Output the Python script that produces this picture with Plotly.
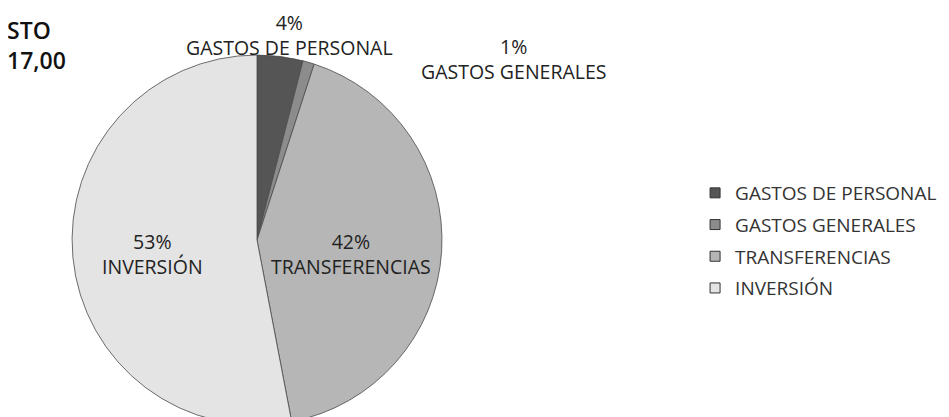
import plotly.graph_objects as go

W, H = 949, 417

categories = ["GASTOS DE PERSONAL", "GASTOS GENERALES", "TRANSFERENCIAS", "INVERSIÓN"]
percent_values = [4, 1, 42, 53]
slice_colors = ["#555555", "#8c8c8c", "#b6b6b6", "#e4e4e4"]
title_lines = ["STO", "17,00"]

# label anchor positions in pixels (centre of each two-line label)
label_pos_px = [(281, 27), (505, 51), (343, 246), (144, 246)]

FONT = "Open Sans"

fig = go.Figure()

fig.add_trace(go.Pie(
    labels=categories,
    values=percent_values,
    sort=False,
    direction="clockwise",
    rotation=0,
    marker=dict(colors=slice_colors, line=dict(color="#4a4a4a", width=0.8)),
    textinfo="none",
    hoverinfo="label+percent",
    showlegend=False,
    domain=dict(x=[0.0675, 0.4573], y=[0.0, 0.8874]),
))

# legend entries (one group per category so the rows can be spaced)
for name, col in zip(categories, slice_colors):
    fig.add_trace(go.Scatter(
        x=[None], y=[None], mode="markers", name=name, legendgroup=name,
        marker=dict(symbol="square", size=10, color=col,
                    line=dict(color="#333333", width=1)),
        hoverinfo="skip",
    ))

annotations = []
for name, pct, (px, py) in zip(categories, percent_values, label_pos_px):
    annotations.append(dict(
        text=f"{pct}%<br>{name}", x=px / W, y=1 - py / H,
        xref="paper", yref="paper", xanchor="center", yanchor="middle",
        showarrow=False, align="center",
        font=dict(family=FONT, size=19.5, color="#222222"),
    ))

annotations.append(dict(
    text="<br>".join(title_lines), x=-3 / W, y=1 - 37 / H,
    xref="paper", yref="paper", xanchor="left", yanchor="middle",
    showarrow=False, align="left",
    font=dict(family=FONT, size=23, color="#111111", weight=600),
))

fig.update_layout(
    width=W, height=H,
    margin=dict(l=0, r=0, t=0, b=0),
    paper_bgcolor="white", plot_bgcolor="white",
    xaxis=dict(visible=False), yaxis=dict(visible=False),
    showlegend=True,
    legend=dict(
        x=0.724, y=1 - 166 / H, xanchor="left", yanchor="top",
        traceorder="grouped", tracegroupgap=4,
        font=dict(family=FONT, size=19, color="#333333"),
        itemwidth=30, bgcolor="rgba(0,0,0,0)",
    ),
    annotations=annotations,
)

fig.write_html("out.html")
